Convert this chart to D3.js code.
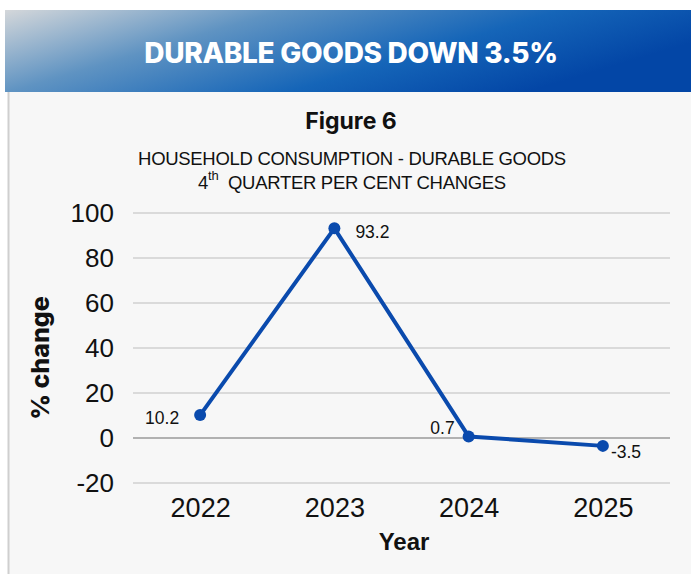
<!DOCTYPE html>
<html>
<head>
<meta charset="utf-8">
<script src="https://cdn.jsdelivr.net/npm/d3@7"></script>
<style>
  body { margin: 0; background: #fff; }
  svg { display: block; }
</style>
</head>
<body>
<div class="chart"></div>
<script>
const years = ['2022', '2023', '2024', '2025']
const values = [10.2, 93.2, 0.7, -3.5]
const yTicks = [-20, 0, 20, 40, 60, 80, 100]

const W = 691, H = 574
const margin = ({top: 213, right: 21, bottom: 91, left: 133})

const svg = d3.select('.chart').append('svg')
    .attr('width', W)
    .attr('height', H)

const defs = svg.append('defs')
const grad = defs.append('linearGradient')
    .attr('id', 'banner')
    .attr('x1', '0%').attr('y1', '0%')
    .attr('x2', '100%').attr('y2', '40%')
grad.append('stop').attr('offset', '0%').attr('stop-color', '#d4d7da')
grad.append('stop').attr('offset', '35%').attr('stop-color', '#5f93c2')
grad.append('stop').attr('offset', '70%').attr('stop-color', '#1565b8')
grad.append('stop').attr('offset', '100%').attr('stop-color', '#0346a6')

// panel + banner
svg.append('rect').attr('x', 8).attr('y', 92).attr('width', W - 8).attr('height', H - 92).attr('fill', '#f7f7f7')
svg.append('line').attr('x1', 8.5).attr('x2', 8.5).attr('y1', 92).attr('y2', H).attr('stroke', '#cfcfcf').attr('stroke-width', 2)
svg.append('rect').attr('x', 5).attr('y', 10).attr('width', W - 5).attr('height', 82).attr('fill', 'url(#banner)')

svg.append('text')
    .attr('x', 351).attr('y', 63)
    .attr('text-anchor', 'middle')
    .style('font-family', 'Inter, Roboto, sans-serif')
    .style('font-weight', 800)
    .style('font-size', '28px')
    .style('letter-spacing', '-0.3px')
    .attr('fill', '#fff')
    .text('DURABLE GOODS DOWN 3.5%')

svg.append('text')
    .attr('x', 351).attr('y', 129)
    .attr('text-anchor', 'middle')
    .style('font-family', 'Inter, Roboto, sans-serif')
    .style('font-weight', 700)
    .style('font-size', '23px')
    .attr('fill', '#111')
    .text('Figure 6')

svg.append('text')
    .attr('x', 352).attr('y', 165)
    .attr('text-anchor', 'middle')
    .style('font-family', '"Liberation Sans", Arial, sans-serif')
    .style('font-size', '18.5px')
    .style('letter-spacing', '-0.3px')
    .attr('fill', '#111')
    .text('HOUSEHOLD CONSUMPTION - DURABLE GOODS')

const sub2 = svg.append('text')
    .attr('x', 352).attr('y', 189)
    .attr('text-anchor', 'middle')
    .style('font-family', '"Liberation Sans", Arial, sans-serif')
    .style('font-size', '18.5px')
    .style('letter-spacing', '-0.3px')
    .attr('fill', '#111')
sub2.append('tspan').text('4')
sub2.append('tspan').attr('dy', -9).style('font-size', '13px').text('th')
sub2.append('tspan').attr('dy', 9).text('\u00a0 QUARTER PER CENT CHANGES')

const g = svg.append('g')
    .attr('transform', 'translate(' + margin.left + ',' + margin.top + ')')

const width = W - margin.left - margin.right
const height = 483 - margin.top

const xScale = d3.scalePoint()
    .domain(years)
    .range([0, width])
    .padding(0.5)

const yScale = d3.scaleLinear()
    .domain([-20, 100])
    .range([height, 0])

// gridlines
g.selectAll('.grid')
    .data(yTicks)
    .enter()
    .append('line')
    .attr('x1', 0).attr('x2', width)
    .attr('y1', d => yScale(d)).attr('y2', d => yScale(d))
    .attr('stroke', d => d === 0 ? '#9a9a9a' : '#d0d0d0')
    .attr('stroke-width', 1.5)

const yAxis = d3.axisLeft(yScale).tickValues(yTicks).tickFormat(d => String(d)).tickSize(0).tickPadding(19)
const yG = g.append('g').attr('class', 'axis y-axis').call(yAxis)
yG.select('.domain').remove()
yG.selectAll('text')
    .style('font-family', '"Liberation Sans", Arial, sans-serif')
    .style('font-size', '26px')
    .attr('fill', '#111')

const xAxis = d3.axisBottom(xScale).tickSize(0).tickPadding(15)
const xG = g.append('g').attr('class', 'axis x-axis')
    .attr('transform', `translate(0, ${height})`)
    .call(xAxis)
xG.select('.domain').remove()
xG.selectAll('text')
    .style('font-family', '"Liberation Sans", Arial, sans-serif')
    .style('font-size', '27px')
    .attr('fill', '#111')

const data = years.map((y, i) => ({year: y, value: values[i]}))

const line = d3.line()
    .x(d => xScale(d.year))
    .y(d => yScale(d.value))

g.append('path')
    .datum(data)
    .attr('d', line)
    .attr('fill', 'none')
    .attr('stroke', '#0a4aad')
    .attr('stroke-width', 4)
    .attr('stroke-linejoin', 'round')

g.selectAll('.dot')
    .data(data)
    .enter()
    .append('circle')
    .attr('cx', d => xScale(d.year))
    .attr('cy', d => yScale(d.value))
    .attr('r', 6)
    .attr('fill', '#0a4aad')

// data labels: offset per point like the original
const labelPos = [
  {dx: -21, dy: 9, anchor: 'end'},
  {dx: 21, dy: 10, anchor: 'start'},
  {dx: -14, dy: -2, anchor: 'end'},
  {dx: 8, dy: 12, anchor: 'start'}
]
g.selectAll('.lbl')
    .data(data)
    .enter()
    .append('text')
    .attr('x', (d, i) => xScale(d.year) + labelPos[i].dx)
    .attr('y', (d, i) => yScale(d.value) + labelPos[i].dy)
    .attr('text-anchor', (d, i) => labelPos[i].anchor)
    .style('font-family', '"Liberation Sans", Arial, sans-serif')
    .style('font-size', '17.5px')
    .attr('fill', '#111')
    .text(d => d.value)

svg.append('text')
    .attr('x', 404).attr('y', 550)
    .attr('text-anchor', 'middle')
    .style('font-family', '"Liberation Sans", Arial, sans-serif')
    .style('font-weight', 700)
    .style('font-size', '24px')
    .attr('fill', '#111')
    .text('Year')

svg.append('text')
    .attr('transform', 'translate(49,358) rotate(-90)')
    .attr('text-anchor', 'middle')
    .style('font-family', 'Inter, Roboto, sans-serif')
    .style('font-weight', 800)
    .style('font-size', '25px')
    .attr('fill', '#111')
    .text('% change')
</script>
</body>
</html>
